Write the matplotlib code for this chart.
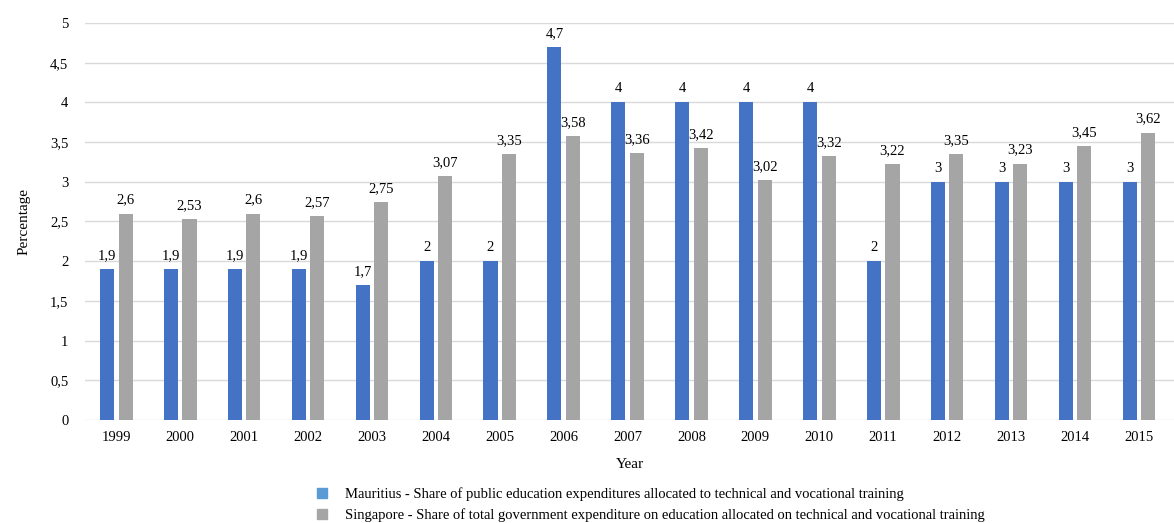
import matplotlib.pyplot as plt
import numpy as np
from matplotlib.patches import Patch

years = ['1999', '2000', '2001', '2002', '2003', '2004', '2005', '2006', '2007',
         '2008', '2009', '2010', '2011', '2012', '2013', '2014', '2015']
mauritius = [1.9, 1.9, 1.9, 1.9, 1.7, 2, 2, 4.7, 4, 4, 4, 4, 2, 3, 3, 3, 3]
singapore = [2.6, 2.53, 2.6, 2.57, 2.75, 3.07, 3.35, 3.58, 3.36, 3.42, 3.02,
             3.32, 3.22, 3.35, 3.23, 3.45, 3.62]
yticks = [0, 0.5, 1, 1.5, 2, 2.5, 3, 3.5, 4, 4.5, 5]

nomeMauritius = 'Mauritius - Share of public education expenditures allocated to technical and vocational training'
nomeSingapore = 'Singapore - Share of total government expenditure on education allocated on technical and vocational training'

azul = '#4472C4'
cinza = '#A5A5A5'

def virgula(v):
	return f'{v:g}'.replace('.', ',')

plt.rcParams['font.family'] = ['Liberation Serif', 'DejaVu Serif']

fig = plt.figure(figsize=(11.74, 5.23), dpi=100)
ax = fig.add_axes([0.0724, 0.197, 0.9276, 0.759])

x = np.arange(len(years))
larg = 0.22
desl = 0.145

b1 = ax.bar(x - desl, mauritius, larg, color=azul, zorder=3)
b2 = ax.bar(x + desl, singapore, larg, color=cinza, zorder=3)

ax.bar_label(b1, labels=[virgula(v) for v in mauritius], padding=5, fontsize=10.5)
ax.bar_label(b2, labels=[virgula(v) for v in singapore], padding=5, fontsize=10.5)

ax.set_xlim(-0.49, 16.55)
ax.set_ylim(0, 5)
ax.set_xticks(x)
ax.set_xticklabels(years, fontsize=10.5)
ax.set_yticks(yticks)
ax.set_yticklabels([virgula(v) for v in yticks], fontsize=10.5)
ax.tick_params(length=0, pad=8)
ax.tick_params(axis='y', pad=12)

ax.grid(True, axis='y', color='#d9d9d9', linewidth=1, zorder=0)
for s in ax.spines.values():
	s.set_visible(False)

ax.set_xlabel('Year', fontsize=11, labelpad=10)
ax.set_ylabel('Percentage', fontsize=11, labelpad=14)

handles = [Patch(color='#5B9BD5'), Patch(color=cinza)]
fig.legend(handles, [nomeMauritius, nomeSingapore], loc='upper left',
           bbox_to_anchor=(0.265, 0.079), frameon=False, fontsize=10.5,
           handlelength=0.7, handleheight=0.7, handletextpad=1.2, labelspacing=0.5,
           borderaxespad=0)

fig.savefig('out.png', dpi=100)
